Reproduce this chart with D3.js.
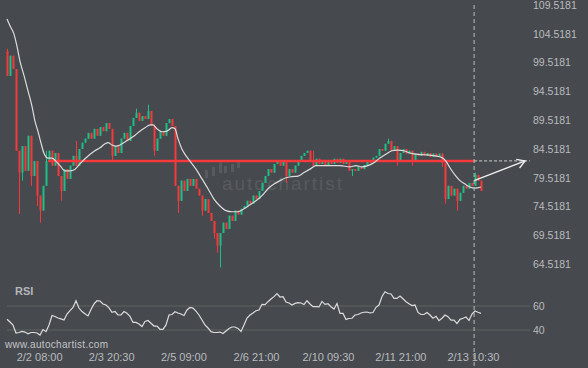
<!DOCTYPE html>
<html>
<head>
<meta charset="utf-8">
<script src="https://cdn.jsdelivr.net/npm/d3@7"></script>
<style>
  body { margin: 0; background: #46494e; }
  svg { display: block; font-family: "Liberation Sans", Arial, sans-serif; }
</style>
</head>
<body>
<div id="chart"></div>
<script>
// closing prices, one per candle (open = previous close)
const firstOpen = 101.5;
const closes = [
  97.2,100.7,98.4,84.2,80.4,85.0,80.7,86.8,79.8,82.4,
  76.4,73.8,78.1,82.4,84.2,81.6,83.8,79.8,77.2,81.0,
  79.3,81.6,83.3,81.6,84.5,85.6,86.3,87.3,86.3,88.0,
  86.8,88.3,87.6,89.0,88.0,83.3,85.0,83.8,86.3,87.3,
  85.9,88.5,89.9,90.8,89.4,90.2,89.7,91.1,88.5,84.2,
  86.3,87.6,86.8,89.0,89.7,88.5,78.1,75.5,79.0,77.2,
  79.3,78.1,79.3,77.6,76.4,73.8,75.8,73.4,72.0,69.9,
  67.7,69.9,71.7,70.6,72.9,72.0,73.8,73.1,74.1,74.6,
  75.5,75.0,76.4,75.8,77.2,78.6,79.8,81.0,80.4,81.9,
  82.4,81.6,82.4,79.8,81.0,80.4,81.6,82.4,83.3,83.8,
  84.2,82.4,81.6,82.8,81.9,82.4,81.6,82.4,81.9,82.8,
  82.1,82.8,81.9,82.4,80.7,81.0,80.7,81.4,81.0,81.7,
  82.4,82.1,83.0,83.3,84.5,84.2,85.4,85.9,84.2,85.0,
  82.4,83.8,84.5,83.7,84.2,82.4,83.7,83.3,84.0,83.3,
  83.8,83.1,83.7,83.1,83.7,82.1,75.8,78.1,76.4,77.6,
  75.5,76.9,78.1,77.6,78.6,78.1,80.0,79.0,77.2
];
// notable wicks [candle index, price]
const wickHigh = [[0,101.9],[13,84.2],[23,85.9],[43,91.5],[47,92.2],[102,84.2],[127,86.3],[156,80.4]];
const wickLow = [[4,73.2],[5,79.0],[8,78.1],[10,74.6],[11,71.7],[18,75.5],[35,82.4],[49,83.3],
  [57,73.4],[65,72.9],[69,68.9],[70,66.5],[71,63.9],[93,78.6],[115,79.8],[130,81.6],
  [135,81.6],[145,81.4],[146,75.0],[150,73.8]];

// moving average (white line)
const maIdx = [0,1,2.3,3.3,4.3,5.7,7,8.3,9.3,10.3,11.3,12.3,13.7,15,16.3,17.7,19.3,21,22.7,24.3,
  26,27.7,29.3,31,32.7,33.7,35,36.3,37.7,39.3,41,42.7,44.3,46,47.7,48.7,50,51.7,53.3,55,
  56,57,58.3,59.7,61,63,65,67,69,71,73,75,77,79,81,83,85,87,89,91,
  93,95,97,99,101,103,105,111,114.3,116.3,118.3,120.3,122.3,124.3,126.3,128.3,130.3,132.3,134.3,136.3,
  139.3,142.7,145,146.3,147.7,149.3,151,152.7,154.3,156,158];
const maVal = [107.1,105.9,104.5,102.4,99.8,97.2,94.6,92.0,89.4,87.6,85.6,83.8,82.9,82.9,82.4,81.6,80.7,80.7,81.0,81.9,
  82.8,83.6,84.2,84.7,85.4,85.6,85.2,85.0,85.2,85.7,86.3,86.9,87.6,88.2,88.7,88.7,88.0,87.5,87.6,88.2,
  88.0,86.3,84.5,83.3,82.4,81.0,79.3,77.6,75.8,74.6,73.8,73.6,73.6,74.1,74.8,75.5,76.4,77.6,78.4,79.0,
  79.5,79.7,79.8,80.4,81.0,81.6,81.6,81.6,81.4,81.6,81.4,81.6,82.1,82.95,83.6,84.2,84.3,84.2,83.8,83.6,
  83.5,83.3,83.0,82.4,81.2,80.0,79.0,78.4,77.9,77.7,77.9];

// RSI, one per candle
const rsi = [
  48.9,46.7,44.2,37.5,37.9,38.8,38.3,36.8,37.9,37.9,
  37.5,35.8,40.4,38.6,44.2,52.1,51.3,50.0,49.3,48.3,
  53.3,56.1,58.8,64.3,58.3,55.4,53.5,51.7,57.1,61.7,
  64.4,64.2,61.7,60.8,58.5,54.8,55.4,52.5,52.5,55.4,
  53.9,51.3,46.3,46.3,45.0,42.9,47.1,47.9,45.6,43.3,
  43.3,40.6,40.6,44.2,52.5,52.9,55.2,54.2,53.3,52.1,
  56.7,58.8,58.3,55.8,52.5,48.3,44.2,41.7,38.6,37.9,
  37.9,38.3,37.1,39.2,41.3,42.5,42.5,41.3,38.8,44.2,
  50.0,52.5,54.2,56.1,56.7,61.4,61.1,63.6,65.8,67.8,
  70.4,67.5,67.8,63.3,62.5,60.8,62.2,62.8,62.5,61.3,
  64.4,61.7,59.4,59.4,59.2,63.8,61.3,61.9,59.4,57.5,
  62.1,53.9,53.8,48.8,49.6,49.8,52.5,52.9,54.2,54.8,
  55.0,54.2,54.6,58.9,60.8,67.9,71.9,70.4,70.0,66.3,
  66.3,68.3,66.0,63.6,61.9,60.4,60.8,54.6,52.9,52.9,
  54.6,52.5,49.8,51.4,47.8,49.8,52.5,51.1,48.3,48.3,
  45.4,48.9,49.8,50.8,47.9,53.3,55.8,54.8,53.9
];

const priceTicks = [109.5181,104.5181,99.5181,94.5181,89.5181,84.5181,79.5181,74.5181,69.5181,64.5181];
const rsiTicks = [60, 40];
const timeIdx = [10.7, 34.7, 58.8, 83, 107, 131.1, 155.3];
const timeLabels = ["2/2 08:00","2/3 20:30","2/5 09:00","2/6 21:00","2/10 09:30","2/11 21:00","2/13 10:30"];

const levelPrice = 82.43;     // red resistance line
const levelStart = 13.7;
const nowIdx = 155.7;         // dashed vertical line
const arrowFrom = [155.7, 79.0];
const arrowTo = [172.7, 82.43];
const dashEnd = 174.3;

const W = 588, H = 368;
const bg = "#46494e";
const up = "#1dbf87", down = "#f43a3c";

const svg = d3.select("#chart").append("svg").attr("width", W).attr("height", H);
svg.append("rect").attr("width", W).attr("height", H).attr("fill", bg);

const x = d3.scaleLinear().domain([0, closes.length - 1]).range([7, 481]);
const y = d3.scaleLinear().domain([64.5181, 109.5181]).range([264, 5]);
const yR = d3.scaleLinear().domain([40, 60]).range([330, 306]);

// watermark
const wm = svg.append("g").attr("fill", "#ffffff").attr("opacity", 0.09);
[[205,170,8],[212,167,9],[219,163,10],[224,166,7],[231,164,8],[237,160,8]].forEach(b => {
  wm.append("rect").attr("x", b[0]).attr("y", b[1]).attr("width", 3).attr("height", b[2]);
});
wm.append("text").attr("x", 222).attr("y", 190).attr("font-size", 19)
  .attr("textLength", 120).attr("lengthAdjust", "spacing").text("autochartist");

// candles
const candles = closes.map((c, i) => {
  const o = i === 0 ? firstOpen : closes[i - 1];
  return { i, o, c, h: Math.max(o, c), l: Math.min(o, c) };
});
wickHigh.forEach(([i, v]) => { candles[i].h = Math.max(candles[i].h, v); });
wickLow.forEach(([i, v]) => { candles[i].l = Math.min(candles[i].l, v); });

const cg = svg.append("g");
cg.selectAll("line.wick").data(candles).enter().append("line")
  .attr("x1", d => x(d.i) + 0.5).attr("x2", d => x(d.i) + 0.5)
  .attr("y1", d => y(d.h)).attr("y2", d => y(d.l))
  .attr("stroke", d => d.c >= d.o ? up : down).attr("stroke-width", 1);
cg.selectAll("rect").data(candles).enter().append("rect")
  .attr("x", d => x(d.i) - 0.5)
  .attr("width", 2)
  .attr("y", d => y(Math.max(d.o, d.c)))
  .attr("height", d => Math.max(1, Math.abs(y(d.o) - y(d.c))))
  .attr("fill", d => d.c >= d.o ? up : down);

// red level
svg.append("line")
  .attr("x1", x(levelStart)).attr("x2", x(nowIdx))
  .attr("y1", y(levelPrice)).attr("y2", y(levelPrice))
  .attr("stroke", "#f53a3d").attr("stroke-width", 2.5);

// moving average
const ma = maIdx.map((d, k) => [d, maVal[k]]);
svg.append("path").datum(ma)
  .attr("fill", "none").attr("stroke", "#dcdcdc").attr("stroke-width", 1.2)
  .attr("d", d3.line().x(d => x(d[0])).y(d => y(d[1])).curve(d3.curveMonotoneX));

// projection
svg.append("line")
  .attr("x1", x(nowIdx)).attr("x2", x(dashEnd))
  .attr("y1", y(levelPrice)).attr("y2", y(levelPrice))
  .attr("stroke", "#cfcfcf").attr("stroke-width", 1).attr("stroke-dasharray", "3,2");
const ax0 = x(arrowFrom[0]), ay0 = y(arrowFrom[1]);
const ax1 = x(arrowTo[0]), ay1 = y(arrowTo[1]);
svg.append("line").attr("x1", ax0).attr("y1", ay0).attr("x2", ax1).attr("y2", ay1)
  .attr("stroke", "#eeeeee").attr("stroke-width", 1.3);
const ang = Math.atan2(ay1 - ay0, ax1 - ax0);
const head = [ang + 2.6, ang - 2.6].map(a => [ax1 + 9 * Math.cos(a), ay1 + 9 * Math.sin(a)]);
svg.append("path")
  .attr("d", `M${head[0][0]},${head[0][1]}L${ax1},${ay1}L${head[1][0]},${head[1][1]}`)
  .attr("fill", "none").attr("stroke", "#eeeeee").attr("stroke-width", 1.3);

// price axis
const yAxis = svg.append("g").attr("transform", "translate(533,0)")
  .call(d3.axisRight(y).tickValues(priceTicks).tickFormat(d3.format(".4f")).tickSize(0).tickPadding(0));
yAxis.select(".domain").remove();
yAxis.selectAll("text").attr("fill", "#b9bbbe").style("font-size", "10.5px");

// RSI panel
svg.selectAll("line.rsigrid").data(rsiTicks).enter().append("line")
  .attr("x1", 7).attr("x2", 530)
  .attr("y1", d => yR(d)).attr("y2", d => yR(d))
  .attr("stroke", "#5e625e").attr("stroke-width", 1);
svg.append("path").datum(rsi)
  .attr("fill", "none").attr("stroke", "#dcdcdc").attr("stroke-width", 1.2)
  .attr("d", d3.line().x((d, i) => x(i)).y(d => yR(d)));
const rAxis = svg.append("g").attr("transform", "translate(533,0)")
  .call(d3.axisRight(yR).tickValues(rsiTicks).tickSize(0).tickPadding(0));
rAxis.select(".domain").remove();
rAxis.selectAll("text").attr("fill", "#b9bbbe").style("font-size", "10.5px");
svg.append("text").attr("x", 15).attr("y", 295).text("RSI")
  .attr("fill", "#b4b7bb").style("font-size", "11px").style("font-weight", "bold");

// time axis
const xAxis = svg.append("g").attr("transform", "translate(0,350)")
  .call(d3.axisBottom(x).tickValues(timeIdx).tickFormat((d, i) => timeLabels[i]).tickSize(0).tickPadding(3));
xAxis.select(".domain").remove();
xAxis.selectAll("text").attr("fill", "#b9bbbe").style("font-size", "11px");

svg.append("text").attr("x", 5).attr("y", 348).text("www.autochartist.com")
  .attr("fill", "#c2c4c6").style("font-size", "10px").style("letter-spacing", "0.3px");

// now line
svg.append("line")
  .attr("x1", x(nowIdx)).attr("x2", x(nowIdx)).attr("y1", 5).attr("y2", H)
  .attr("stroke", "#bdbdbd").attr("stroke-width", 1).attr("stroke-dasharray", "4,3");
</script>
</body>
</html>
